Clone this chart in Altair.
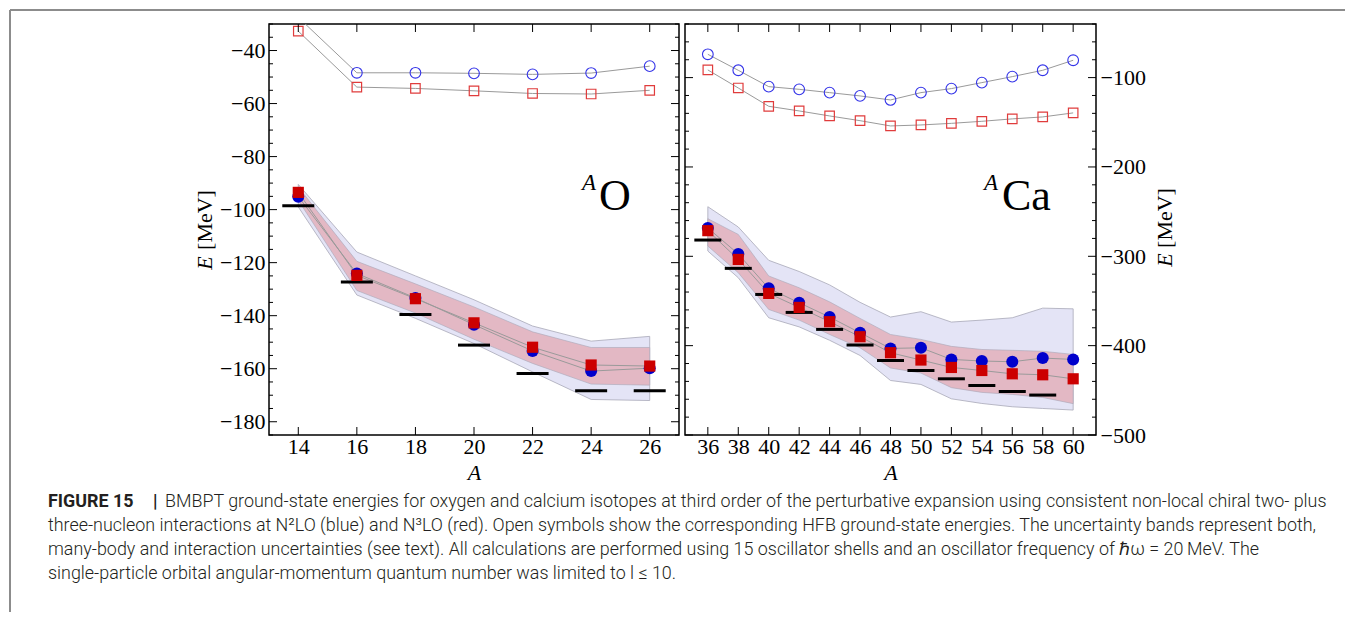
import altair as alt
import pandas as pd

SERIF = "Liberation Serif"
SANS = "Roboto"

# ---------------- Oxygen (left panel) ----------------
O_A = [14, 16, 18, 20, 22, 24, 26]
O_hfb_n2lo = [-27.5, -48.4, -48.4, -48.6, -49.0, -48.5, -45.9]
O_hfb_n3lo = [-32.7, -53.8, -54.3, -55.2, -56.2, -56.4, -55.0]
O_bm_n2lo = [-95.1, -124.1, -133.3, -143.4, -153.3, -160.9, -159.8]
O_bm_n3lo = [-93.5, -124.8, -133.6, -142.7, -151.9, -158.6, -159.0]
O_exp_A = [14, 16, 18, 20, 22, 24, 26]
O_exp = [-98.5, -127.3, -139.6, -151.1, -161.8, -168.3, -168.3]
O_n2lo_hi = [-90.5, -116.0, -125.0, -134.0, -143.9, -149.6, -147.8]
O_n2lo_lo = [-99.0, -132.2, -141.0, -150.5, -161.2, -171.6, -172.0]
O_n3lo_hi = [-91.5, -119.5, -128.0, -136.7, -146.1, -152.0, -152.0]
O_n3lo_lo = [-96.5, -130.5, -139.0, -148.9, -158.0, -165.8, -166.2]
O_x_ticks = [14, 16, 18, 20, 22, 24, 26]
O_y_major = [-180, -160, -140, -120, -100, -80, -60, -40]
O_y_minor = [v for v in range(-185, -29, 5) if v % 20 != 0]

# ---------------- Calcium (right panel) ----------------
Ca_A = [36, 38, 40, 42, 44, 46, 48, 50, 52, 54, 56, 58, 60]
Ca_hfb_n2lo = [-73.9, -91.8, -110.1, -113.1, -116.8, -120.5, -125.0, -116.8, -112.3, -105.6, -98.9, -91.8, -80.6]
Ca_hfb_n3lo = [-91.4, -111.6, -132.1, -137.3, -142.9, -148.2, -154.1, -153.0, -151.2, -148.9, -146.2, -144.0, -139.5]
Ca_bm_n2lo = [-268.3, -297.4, -335.9, -352.0, -368.0, -385.6, -403.1, -402.4, -415.4, -417.2, -418.0, -413.9, -415.4]
Ca_bm_n3lo = [-271.3, -303.5, -341.5, -357.2, -373.2, -390.0, -407.9, -416.1, -424.4, -427.8, -431.5, -432.6, -437.1]
Ca_exp_A = [36, 38, 40, 42, 44, 46, 48, 50, 52, 54, 56, 58]
Ca_exp = [-281.8, -313.5, -342.7, -362.8, -381.8, -399.3, -416.6, -427.8, -437.1, -444.6, -451.3, -455.3]
Ca_n2lo_hi = [-244.5, -267.2, -304.5, -317.0, -332.0, -351.5, -368.0, -362.0, -373.6, -371.4, -368.8, -358.0, -358.8]
Ca_n2lo_lo = [-294.1, -324.0, -368.8, -379.0, -394.0, -411.0, -439.0, -443.4, -459.5, -464.7, -468.4, -470.3, -472.1]
Ca_n3lo_hi = [-257.9, -275.5, -322.0, -335.2, -351.0, -369.5, -387.5, -393.0, -400.8, -404.3, -405.2, -406.3, -409.8]
Ca_n3lo_lo = [-288.5, -318.4, -359.5, -371.4, -387.5, -402.4, -425.0, -430.7, -447.0, -452.3, -454.6, -458.0, -464.9]
Ca_x_ticks = [36, 38, 40, 42, 44, 46, 48, 50, 52, 54, 56, 58, 60]
Ca_y_major = [-500, -400, -300, -200, -100]
Ca_y_minor = [v for v in range(-500, -39, 20) if v % 100 != 0]

caption_bold = "FIGURE 15"
caption_bar = "|"
caption_lines = [
    "BMBPT ground-state energies for oxygen and calcium isotopes at third order of the perturbative expansion using consistent non-local chiral two- plus",
    "three-nucleon interactions at N\u00b2LO (blue) and N\u00b3LO (red). Open symbols show the corresponding HFB ground-state energies. The uncertainty bands represent both,",
    "many-body and interaction uncertainties (see text). All calculations are performed using 15 oscillator shells and an oscillator frequency of \u210f\u03c9 = 20\u2009MeV. The",
    "single-particle orbital angular-momentum quantum number was limited to l \u2264 10.",
]

BLUE_BAND = "#e4e4f6"
RED_BAND = "#e3b8c4"
BAND_EDGE = "#a8a8b8"
GRAY = "#9a9a9a"
CAP_SIZE = 17.9


def txt(s, x, y, **kw):
    return alt.Chart(pd.DataFrame({"t": [s]})).mark_text(**kw).encode(
        text="t:N", x=alt.value(x), y=alt.value(y))


def panel(A, hfb2, hfb3, bm2, bm3, expA, exp, b2hi, b2lo, b3hi, b3lo,
          xdom, ydom, xticks, ymaj, ymin, W, H, yorient, barw, extras):
    df = pd.DataFrame(dict(A=A, hfb2=hfb2, hfb3=hfb3, bm2=bm2, bm3=bm3,
                           b2hi=b2hi, b2lo=b2lo, b3hi=b3hi, b3lo=b3lo))
    dexp = pd.DataFrame(dict(A=expA, E=exp))
    xs = alt.Scale(domain=xdom, nice=False, zero=False)
    ys = alt.Scale(domain=ydom, nice=False, zero=False)
    xax = alt.Axis(values=xticks, title="A", ticks=False, domain=False, grid=False,
                   labelFont=SERIF, labelFontSize=22, labelColor="black", labelPadding=1,
                   titleFont=SERIF, titleFontSize=22, titleFontStyle="italic",
                   titleFontWeight="normal", titleColor="black", titlePadding=5,
                   labelFlush=False, labelOverlap=False, format="d")
    yax = alt.Axis(values=ymaj, title="", orient=yorient, ticks=False, domain=False,
                   grid=False, labelFont=SERIF, labelFontSize=22, labelColor="black",
                   labelPadding=4, labelFlush=False, labelOverlap=False)

    def X(f):
        return alt.X(f"{f}:Q", scale=xs, axis=xax)

    def Y(f):
        return alt.Y(f"{f}:Q", scale=ys, axis=yax)

    base = alt.Chart(df)
    layers = [
        base.mark_area(color=BLUE_BAND, stroke=BAND_EDGE, strokeWidth=0.8, opacity=1).encode(
            x=X("A"), y=Y("b2lo"), y2=alt.Y2("b2hi")),
        base.mark_area(color=RED_BAND, stroke=BAND_EDGE, strokeWidth=0.6, opacity=1).encode(
            x=X("A"), y=Y("b3lo"), y2=alt.Y2("b3hi")),
        base.mark_line(color=GRAY, strokeWidth=1, clip=True).encode(x=X("A"), y=Y("hfb2")),
        base.mark_line(color=GRAY, strokeWidth=1, clip=True).encode(x=X("A"), y=Y("hfb3")),
        base.mark_line(color=GRAY, strokeWidth=1).encode(x=X("A"), y=Y("bm2")),
        base.mark_line(color=GRAY, strokeWidth=1).encode(x=X("A"), y=Y("bm3")),
        base.mark_point(shape="circle", filled=False, color="#3434e8", size=115,
                        strokeWidth=1.1, opacity=1, clip=True).encode(x=X("A"), y=Y("hfb2")),
        base.mark_point(shape="square", filled=False, color="#e03c3c", size=90,
                        strokeWidth=1.2, opacity=1, clip=True).encode(x=X("A"), y=Y("hfb3")),
        alt.Chart(dexp).mark_tick(orient="horizontal", size=barw, thickness=3,
                                  color="black", opacity=1).encode(x=X("A"), y=Y("E")),
        base.mark_circle(color="#0000cc", size=145, opacity=1).encode(x=X("A"), y=Y("bm2")),
        base.mark_square(color="#cc0000", size=125, opacity=1).encode(x=X("A"), y=Y("bm3")),
    ]
    dmaj = pd.DataFrame({"v": ymaj})
    dmin = pd.DataFrame({"v": ymin})
    dxt = pd.DataFrame({"v": xticks})
    for d, ln in ((dmaj, 8), (dmin, 4)):
        layers.append(alt.Chart(d).mark_rule(color="black", strokeWidth=1).encode(
            y=Y("v"), x=alt.value(0), x2=alt.value(ln)))
        layers.append(alt.Chart(d).mark_rule(color="black", strokeWidth=1).encode(
            y=Y("v"), x=alt.value(W), x2=alt.value(W - ln)))
    layers.append(alt.Chart(dxt).mark_rule(color="black", strokeWidth=1).encode(
        x=X("v"), y=alt.value(0), y2=alt.value(8)))
    layers.append(alt.Chart(dxt).mark_rule(color="black", strokeWidth=1).encode(
        x=X("v"), y=alt.value(H), y2=alt.value(H - 8)))
    layers += extras
    return alt.layer(*layers).properties(width=W, height=H)


W1, W2, H = 410, 411, 411

left_extras = [
    txt("A", 313, 166, font=SERIF, fontSize=23, fontStyle="italic", align="left", baseline="alphabetic", color="black"),
    txt("O", 330, 186, font=SERIF, fontSize=44, align="left", baseline="alphabetic", color="black"),
    txt("[MeV]", -64, 196, font=SERIF, fontSize=22, angle=270, align="center", baseline="middle", color="black"),
    txt("E", -64, 239, font=SERIF, fontSize=22, fontStyle="italic", angle=270, align="center", baseline="middle", color="black"),
    # figure frame
    alt.Chart(pd.DataFrame({"t": [0]})).mark_rule(color="#8c8c8c", strokeWidth=2).encode(
        x=alt.value(-259), x2=alt.value(1076), y=alt.value(-14)),
    alt.Chart(pd.DataFrame({"t": [0]})).mark_rule(color="#8c8c8c", strokeWidth=2).encode(
        x=alt.value(-259), y=alt.value(-14), y2=alt.value(588)),
    txt(caption_bold, -221, 483, font=SANS, fontSize=CAP_SIZE, fontWeight="bold", align="left", baseline="alphabetic", color="#231f20"),
    txt(caption_bar, -116, 483, font=SANS, fontSize=CAP_SIZE, fontWeight="bold", align="left", baseline="alphabetic", color="#231f20"),
]
for i, line in enumerate(caption_lines):
    x0 = -104 if i == 0 else -221
    left_extras.append(txt(line, x0, 483 + 24 * i, font=SANS, fontSize=CAP_SIZE, fontWeight=300,
                           align="left", baseline="alphabetic", color="#231f20"))

right_extras = [
    txt("A", 299, 166, font=SERIF, fontSize=23, fontStyle="italic", align="left", baseline="alphabetic", color="black"),
    txt("Ca", 317, 186, font=SERIF, fontSize=44, align="left", baseline="alphabetic", color="black"),
    txt("[MeV]", 480, 194, font=SERIF, fontSize=22, angle=270, align="center", baseline="middle", color="black"),
    txt("E", 480, 236, font=SERIF, fontSize=22, fontStyle="italic", angle=270, align="center", baseline="middle", color="black"),
]

left = panel(O_A, O_hfb_n2lo, O_hfb_n3lo, O_bm_n2lo, O_bm_n3lo, O_exp_A, O_exp,
             O_n2lo_hi, O_n2lo_lo, O_n3lo_hi, O_n3lo_lo,
             [13, 27], [-185, -30], O_x_ticks, O_y_major, O_y_minor, W1, H, "left", 32, left_extras)
right = panel(Ca_A, Ca_hfb_n2lo, Ca_hfb_n3lo, Ca_bm_n2lo, Ca_bm_n3lo, Ca_exp_A, Ca_exp,
              Ca_n2lo_hi, Ca_n2lo_lo, Ca_n3lo_hi, Ca_n3lo_lo,
              [34.5, 61.5], [-500, -40], Ca_x_ticks, Ca_y_major, Ca_y_minor, W2, H, "right", 27, right_extras)

chart = alt.hconcat(left, right, spacing=6, bounds="flush").properties(
    padding={"left": 0, "top": 0, "right": 0, "bottom": 0}
).configure_view(stroke="black", strokeWidth=1.5)

chart.save("out.html", embed_options={"renderer": "svg", "actions": False})
